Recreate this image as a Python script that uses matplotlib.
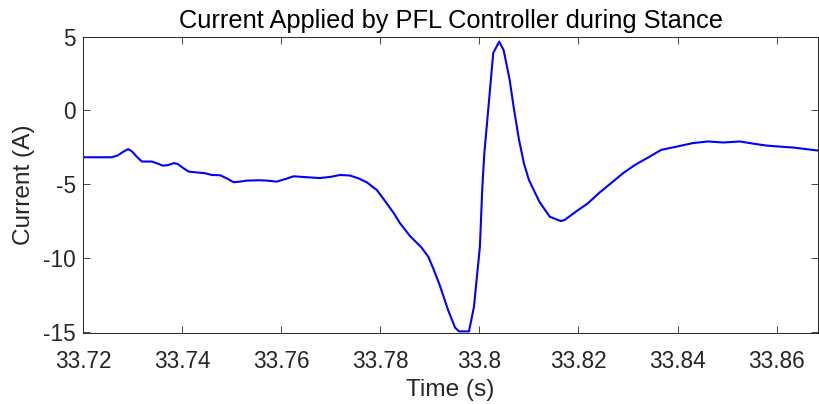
import matplotlib
matplotlib.use("Agg")
import matplotlib.pyplot as plt
import numpy as np

# time (s) and current (A)
time_s = [33.7200, 33.7258, 33.7270, 33.7281, 33.7291, 33.7299, 33.7309, 33.7319,
          33.7339, 33.7351, 33.7361, 33.7372, 33.7383, 33.7391, 33.7402, 33.7413,
          33.7433, 33.7446, 33.7460, 33.7477, 33.7490, 33.7504, 33.7517, 33.7531,
          33.7557, 33.7571, 33.7591, 33.7608, 33.7625, 33.7650, 33.7678, 33.7699,
          33.7719, 33.7739, 33.7756, 33.7773, 33.7793, 33.7813, 33.7827, 33.7840,
          33.7860, 33.7883, 33.7897, 33.7908, 33.7920, 33.7937, 33.7951, 33.7959,
          33.7979, 33.7989, 33.8001, 33.8006, 33.8010, 33.8019, 33.8028, 33.8040,
          33.8049, 33.8061, 33.8070, 33.8080, 33.8090, 33.8100, 33.8121, 33.8142,
          33.8164, 33.8172, 33.8195, 33.8219, 33.8243, 33.8267, 33.8290, 33.8314,
          33.8344, 33.8367, 33.8398, 33.8431, 33.8461, 33.8492, 33.8526, 33.8553,
          33.8580, 33.8607, 33.8633, 33.8660, 33.8684]
current_a = [-3.17, -3.17, -3.05, -2.80, -2.62, -2.78, -3.15, -3.46,
             -3.46, -3.60, -3.74, -3.70, -3.57, -3.62, -3.90, -4.14,
             -4.21, -4.25, -4.37, -4.39, -4.60, -4.86, -4.82, -4.75,
             -4.73, -4.75, -4.82, -4.65, -4.46, -4.52, -4.58, -4.50,
             -4.37, -4.41, -4.60, -4.87, -5.39, -6.29, -6.95, -7.65,
             -8.51, -9.28, -9.92, -10.80, -11.84, -13.54, -14.72, -14.97,
             -14.97, -13.31, -9.24, -5.16, -2.90, 0.50, 3.90, 4.67,
             4.08, 2.09, 0.05, -1.99, -3.60, -4.71, -6.18, -7.20,
             -7.49, -7.42, -6.85, -6.29, -5.55, -4.89, -4.25, -3.69,
             -3.12, -2.67, -2.45, -2.21, -2.10, -2.17, -2.10, -2.25,
             -2.38, -2.45, -2.51, -2.62, -2.72]

x_ticks = [33.72, 33.74, 33.76, 33.78, 33.80, 33.82, 33.84, 33.86]
x_tick_labels = ["33.72", "33.74", "33.76", "33.78", "33.8", "33.82", "33.84", "33.86"]
y_ticks = [-15, -10, -5, 0, 5]

plt.rcParams["font.family"] = ["Liberation Sans", "DejaVu Sans"]
plt.rcParams["axes.unicode_minus"] = False

fig = plt.figure(figsize=(8.2, 4.04), dpi=100)
ax = fig.add_axes([83 / 820, 1 - 333.3 / 404, (818.3 - 83) / 820, (333.3 - 36.7) / 404])

ax.plot(time_s, current_a, color="#0000ff", linewidth=1.5)

ax.set_xlim(33.72, 33.8684)
ax.set_ylim(-15.1, 5)
ax.set_xticks(x_ticks)
ax.set_xticklabels(x_tick_labels)
ax.set_yticks(y_ticks)

ax.tick_params(direction="in", top=True, right=True, length=5.3, width=0.6,
               colors="#262626", labelsize=16.3, labelcolor="#262626")
ax.tick_params(axis="x", pad=12)
ax.tick_params(axis="y", pad=5)
for s in ax.spines.values():
    s.set_color("#262626")
    s.set_linewidth(0.7)

ax.set_title("Current Applied by PFL Controller during Stance", fontsize=18.3,
             color="black", pad=6)
ax.set_xlabel("Time (s)", fontsize=17.6, color="#262626", labelpad=4.5)
ax.set_ylabel("Current (A)", fontsize=17.6, color="#262626", labelpad=6)

fig.savefig("out.png", dpi=100)
